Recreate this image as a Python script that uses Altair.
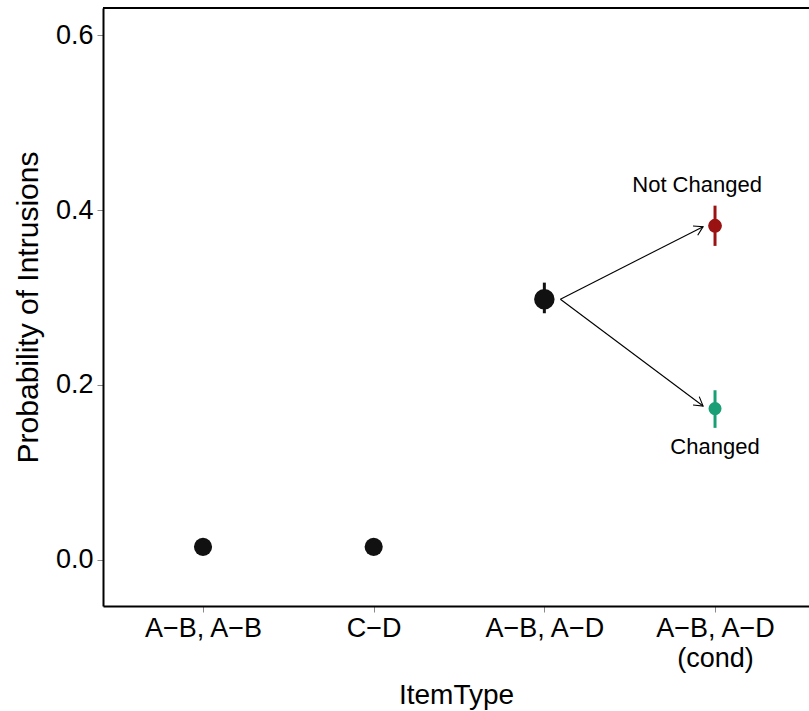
import json, math
import altair as alt
import pandas as pd

# ---- data ----
categories = ["A\u2212B, A\u2212B", "C\u2212D", "A\u2212B, A\u2212D", "A\u2212B, A\u2212D\n(cond)"]
cat_pos = [1, 2, 3, 4]

pt_x = [1, 2, 3, 4, 4]
pt_y = [0.015, 0.015, 0.298, 0.382, 0.173]
pt_lo = [0.012, 0.012, 0.282, 0.359, 0.151]
pt_hi = [0.018, 0.018, 0.317, 0.405, 0.194]
pt_group = ["base", "base", "base", "Not Changed", "Changed"]
pt_size = [330, 330, 420, 190, 170]

arrow_x = [3.094, 3.094]
arrow_y = [0.298, 0.298]
arrow_x2 = [3.93, 3.93]
arrow_y2 = [0.381, 0.176]

ann_text = ["Not Changed", "Changed"]
ann_x = [3.895, 4.0]
ann_y = [0.4286, 0.129]

W, H = 706, 598
XDOM = [0.414, 0.414 + W / 170.67]
YDOM = [-0.0526, 0.6309]

font = "Liberation Sans"

pts = pd.DataFrame({"x": pt_x, "y": pt_y, "lo": pt_lo, "hi": pt_hi,
                    "g": pt_group, "s": pt_size})
arr = pd.DataFrame({"x": arrow_x, "y": arrow_y, "x2": arrow_x2, "y2": arrow_y2})
px_x = W / (XDOM[1] - XDOM[0])
px_y = H / (YDOM[1] - YDOM[0])
arr["ang"] = [
    (math.degrees(math.atan2(-(b - a) * px_y, (d - c) * px_x)) + 360) % 360
    for a, b, c, d in zip(arr["y"], arr["y2"], arr["x"], arr["x2"])
]
ann = pd.DataFrame({"t": ann_text, "x": ann_x, "y": ann_y})

label_expr = "split(" + json.dumps(categories, ensure_ascii=False) + "[datum.value - 1], '\\n')"

xscale = alt.Scale(domain=XDOM, nice=False, zero=False)
yscale = alt.Scale(domain=YDOM, nice=False, zero=False)

xenc = alt.X("x:Q", scale=xscale,
             axis=alt.Axis(values=cat_pos, labelExpr=label_expr, title="ItemType",
                           grid=False, labelLineHeight=30, labelPadding=3,
                           titlePadding=10, titleFontSize=28))
yaxis = alt.Axis(values=[0, 0.2, 0.4, 0.6], format=".1f",
                 title="Probability of Intrusions", grid=False,
                 labelPadding=4, titlePadding=12, titleFontSize=30)

color_scale = alt.Scale(domain=["base", "Not Changed", "Changed"],
                        range=["#111111", "#9B1212", "#1A9E76"])

base = alt.Chart(pts)

errs = base.mark_rule(strokeWidth=3).encode(
    x=xenc, y=alt.Y("lo:Q", scale=yscale, axis=yaxis), y2="hi:Q",
    color=alt.Color("g:N", scale=color_scale, legend=None))

dots = base.mark_circle(opacity=1).encode(
    x=alt.X("x:Q", scale=xscale), y=alt.Y("y:Q", scale=yscale),
    color=alt.Color("g:N", scale=color_scale, legend=None),
    size=alt.Size("s:Q", scale=None, legend=None))

lines = alt.Chart(arr).mark_rule(color="black", strokeWidth=1.1).encode(
    x=alt.X("x:Q", scale=xscale), y=alt.Y("y:Q", scale=yscale), x2="x2:Q", y2="y2:Q")

heads = alt.Chart(arr).mark_point(shape="M-1,-0.6L0,0L-1,0.6", filled=False,
                                  color="black", strokeWidth=1.1, size=300,
                                  opacity=1).encode(
    x=alt.X("x2:Q", scale=xscale), y=alt.Y("y2:Q", scale=yscale),
    angle=alt.Angle("ang:Q", scale=None))

texts = alt.Chart(ann).mark_text(font=font, fontSize=22, color="black").encode(
    x=alt.X("x:Q", scale=xscale), y=alt.Y("y:Q", scale=yscale), text="t:N")

topline = alt.Chart(pts).mark_rule(color="black", strokeWidth=2).encode(
    x=alt.value(0), x2=alt.value(W), y=alt.value(0))

chart = alt.layer(errs, lines, heads, dots, texts, topline).properties(
    width=W, height=H,
    autosize=alt.AutoSizeParams(type="none"),
    padding={"left": 103, "top": 8, "right": 0, "bottom": 105},
).configure_view(stroke=None).configure_axis(
    labelFont=font, titleFont=font, labelFontSize=27,
    labelColor="black", titleColor="black", titleFontWeight="normal",
    domainColor="black", domainWidth=2, tickColor="#888888", tickSize=6,
    tickWidth=1, grid=False,
)

chart.save("out.html", embed_options={"renderer": "svg", "actions": False})
